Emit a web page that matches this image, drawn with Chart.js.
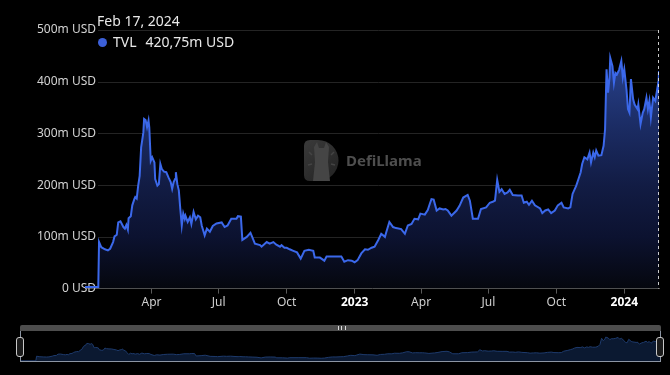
<!DOCTYPE html>
<html>
<head>
<meta charset="utf-8">
<script src="https://cdn.jsdelivr.net/npm/chart.js@4.4.1/dist/chart.umd.min.js"></script>
<style>
  html, body { margin: 0; padding: 0; background: #000; }
  body { width: 670px; height: 375px; position: relative; overflow: hidden; font-family: "Noto Sans", sans-serif; }
  #mainWrap { position: absolute; left: 0; top: 0; width: 670px; height: 312px; }
  #head { position: absolute; left: 97px; top: 10px; color: #e8e8e8; font-size: 14px; line-height: 21px; white-space: nowrap; }
  #head .dot { display: inline-block; width: 9px; height: 9px; border-radius: 50%; background: #3c60d8; margin: 0 6px 0 1px; }
  #head .val { margin-left: 9px; }
  #bar { position: absolute; left: 20px; top: 325px; width: 641px; height: 6px; background: #4d4d4d; border-radius: 2px 2px 0 0; }
  #grip { position: absolute; left: 338px; top: 326px; width: 6px; height: 4px; border-left: 1px solid #ddd; border-right: 1px solid #ddd; }
  #grip::after { content: ""; position: absolute; left: 2px; top: 0; width: 1px; height: 4px; background: #ddd; }
  #box { position: absolute; left: 20px; top: 331px; width: 641px; height: 31px; box-sizing: border-box; border: 1px solid #8c95a3; border-top: none; }
  #miniWrap { position: absolute; left: 21px; top: 331px; width: 639px; height: 30px; }
  .handle { position: absolute; top: 337px; width: 6px; height: 18px; border: 1px solid #c8c8c8; border-radius: 3px; background: #1b1b1b; }
</style>
</head>
<body>
<div id="mainWrap"><canvas id="tvlChart"></canvas></div>
<div id="head">
  <div>Feb 17, 2024</div>
  <div><span class="dot"></span>TVL<span class="val">420,75m USD</span></div>
</div>
<div id="bar"></div>
<div id="grip"></div>
<div id="box"></div>
<div id="miniWrap"><canvas id="miniChart"></canvas></div>
<div class="handle" style="left:16px"></div>
<div class="handle" style="left:656px"></div>
<script>
// TVL in millions of USD
const dates = [
  '2022-01-01','2022-01-19','2022-01-20','2022-01-23','2022-01-28','2022-02-01','2022-02-04','2022-02-08','2022-02-10','2022-02-13',
  '2022-02-15','2022-02-18','2022-02-22','2022-02-24','2022-02-26','2022-02-28','2022-03-01','2022-03-04','2022-03-06','2022-03-09',
  '2022-03-10','2022-03-12','2022-03-14','2022-03-16','2022-03-18','2022-03-21','2022-03-22','2022-03-24','2022-03-26','2022-03-28',
  '2022-03-29','2022-03-31','2022-04-02','2022-04-05','2022-04-06','2022-04-09','2022-04-11','2022-04-13','2022-04-15','2022-04-18',
  '2022-04-21','2022-04-24','2022-04-27','2022-04-29','2022-05-01','2022-05-03','2022-05-04','2022-05-06','2022-05-08','2022-05-10',
  '2022-05-12','2022-05-14','2022-05-16','2022-05-17','2022-05-20','2022-05-23','2022-05-25','2022-05-28','2022-05-31','2022-06-03',
  '2022-06-06','2022-06-08','2022-06-12','2022-06-15','2022-06-19','2022-06-23','2022-06-28','2022-07-05','2022-07-09','2022-07-13',
  '2022-07-18','2022-07-25','2022-07-27','2022-07-31','2022-08-02','2022-08-08','2022-08-13','2022-08-19','2022-08-26','2022-08-28',
  '2022-09-04','2022-09-08','2022-09-13','2022-09-17','2022-09-22','2022-09-24','2022-09-28','2022-10-01','2022-10-05','2022-10-10',
  '2022-10-15','2022-10-20','2022-10-25','2022-10-31','2022-11-06','2022-11-08','2022-11-15','2022-11-21','2022-11-24','2022-12-05',
  '2022-12-14','2022-12-18','2022-12-23','2022-12-28','2023-01-01','2023-01-05','2023-01-10','2023-01-15','2023-01-19','2023-01-24',
  '2023-01-28','2023-02-02','2023-02-06','2023-02-11','2023-02-13','2023-02-17','2023-02-22','2023-02-26','2023-03-05','2023-03-10',
  '2023-03-14','2023-03-19','2023-03-23','2023-03-28','2023-03-31','2023-04-06','2023-04-10','2023-04-13','2023-04-15','2023-04-18',
  '2023-04-22','2023-04-26','2023-05-01','2023-05-04','2023-05-07','2023-05-12','2023-05-19','2023-05-23','2023-05-28','2023-06-03',
  '2023-06-06','2023-06-10','2023-06-17','2023-06-21','2023-06-28','2023-07-03','2023-07-07','2023-07-10','2023-07-13','2023-07-16',
  '2023-07-19','2023-07-23','2023-07-27','2023-07-30','2023-08-03','2023-08-10','2023-08-15','2023-08-18','2023-08-22','2023-08-25',
  '2023-08-29','2023-09-02','2023-09-09','2023-09-12','2023-09-16','2023-09-20','2023-09-24','2023-09-29','2023-10-03','2023-10-08',
  '2023-10-11','2023-10-17','2023-10-20','2023-10-23','2023-10-28','2023-10-31','2023-11-03','2023-11-05','2023-11-08','2023-11-12',
  '2023-11-15','2023-11-17','2023-11-20','2023-11-22','2023-11-24','2023-11-27','2023-12-01','2023-12-04','2023-12-06','2023-12-08',
  '2023-12-10','2023-12-12','2023-12-13','2023-12-16','2023-12-18','2023-12-20','2023-12-22','2023-12-25','2023-12-28','2023-12-30',
  '2024-01-01','2024-01-04','2024-01-06','2024-01-08','2024-01-10','2024-01-13','2024-01-15','2024-01-19','2024-01-20','2024-01-23',
  '2024-01-26','2024-01-28','2024-01-31','2024-02-02','2024-02-04','2024-02-06','2024-02-09','2024-02-12','2024-02-15','2024-02-16',
  '2024-02-17'
];
const tvl = [
  3, 3, 90, 80, 76, 74, 77, 90, 101, 104,
  128, 130, 119, 116, 123, 114, 136, 140, 161, 174,
  177, 174, 199, 218, 273, 302, 328, 326, 312, 325,
  312, 247, 254, 244, 212, 199, 202, 241, 231, 226,
  225, 215, 206, 193, 206, 212, 225, 202, 190, 154,
  122, 145, 135, 141, 129, 138, 125, 148, 134, 141,
  138, 122, 103, 116, 110, 121, 126, 128, 119, 122,
  135, 135, 140, 139, 94, 100, 108, 87, 84, 81,
  90, 87, 90, 85, 81, 84, 79, 79, 76, 73,
  70, 58, 73, 75, 73, 60, 60, 54, 62, 62,
  62, 52, 55, 54, 51, 55, 68, 76, 75, 79,
  81, 94, 106, 100, 110, 129, 119, 117, 115, 106,
  122, 125, 135, 134, 145, 143, 152, 165, 173, 172,
  151, 155, 153, 154, 151, 141, 151, 160, 176, 181,
  170, 135, 135, 154, 157, 166, 168, 170, 210, 187,
  192, 183, 186, 191, 181, 180, 180, 166, 168, 162,
  170, 161, 155, 146, 151, 153, 146, 151, 161, 166,
  157, 155, 157, 183, 199, 212, 225, 241, 254, 250,
  263, 244, 263, 254, 267, 257, 258, 276, 308, 424,
  379, 408, 446, 430, 398, 417, 414, 423, 440, 408,
  424, 385, 347, 340, 405, 366, 356, 347, 356, 318,
  340, 347, 369, 347, 363, 331, 369, 363, 389, 379,
  420.75
];
const xTickDates = ['2022-04-01','2022-07-01','2022-10-01','2023-01-01','2023-04-01','2023-07-01','2023-10-01','2024-01-01'];
const xTickLabels = ['Apr','Jul','Oct','2023','Apr','Jul','Oct','2024'];
const yTickValues = [0, 100, 200, 300, 400, 500];
const yTickLabels = ['0 USD','100m USD','200m USD','300m USD','400m USD','500m USD'];

const FONT = '"Noto Sans", sans-serif';
const DAY0 = Date.parse('2022-01-01');
const toDay = s => (Date.parse(s) - DAY0) / 86400000;
const points = dates.map((d, i) => ({ x: toDay(d), y: tvl[i] }));
const lastDay = toDay(dates[dates.length - 1]);
const isYear = i => /^\d{4}$/.test(xTickLabels[i]);

// y labels sit over the first days of the line, and the grid starts right of them
const yAxisPlugin = {
  id: 'yAxisLook',
  beforeDatasetsDraw(chart) {
    const { ctx, chartArea, scales: { y } } = chart;
    ctx.save();
    ctx.strokeStyle = '#242424';
    ctx.lineWidth = 1;
    yTickValues.slice(1).forEach(v => {
      const py = Math.round(y.getPixelForValue(v)) + 0.5;
      ctx.beginPath();
      ctx.moveTo(chartArea.left + 13, py);
      ctx.lineTo(chartArea.right, py);
      ctx.stroke();
    });
    ctx.fillStyle = '#d2d2d2';
    ctx.font = '12px ' + FONT;
    ctx.textAlign = 'right';
    ctx.textBaseline = 'middle';
    yTickValues.forEach((v, i) => ctx.fillText(yTickLabels[i], chartArea.left + 11, y.getPixelForValue(v)));
    ctx.restore();
  }
};

const watermark = {
  id: 'watermark',
  beforeDatasetsDraw(chart) {
    const { ctx } = chart;
    const lx = 304, ty = 140, h = 41, r = h / 2;
    ctx.save();
    const g = ctx.createLinearGradient(lx, ty, lx + 34, ty + h);
    g.addColorStop(0, '#3a3a3a');
    g.addColorStop(1, '#222');
    ctx.fillStyle = g;
    ctx.beginPath();
    ctx.moveTo(lx + 6, ty);
    ctx.lineTo(lx + 14, ty);
    ctx.arc(lx + 14, ty + r, r, -Math.PI / 2, Math.PI / 2);
    ctx.lineTo(lx + 6, ty + h);
    ctx.quadraticCurveTo(lx, ty + h, lx, ty + h - 6);
    ctx.lineTo(lx, ty + 6);
    ctx.quadraticCurveTo(lx, ty, lx + 6, ty);
    ctx.fill();
    // llama head
    ctx.fillStyle = '#454545';
    ctx.beginPath();
    ctx.moveTo(314, 147); ctx.lineTo(317, 142); ctx.lineTo(319, 148);
    ctx.lineTo(324, 148); ctx.lineTo(326, 142); ctx.lineTo(329, 147);
    ctx.lineTo(328, 162); ctx.lineTo(330, 181); ctx.lineTo(313, 181);
    ctx.lineTo(315, 162); ctx.closePath();
    ctx.fill();
    ctx.strokeStyle = '#444';
    ctx.lineWidth = 1.5;
    [[309, 152, 312, 155], [334, 152, 331, 155], [308, 165, 312, 164], [335, 165, 331, 164]].forEach(([a, b, c, d]) => {
      ctx.beginPath(); ctx.moveTo(a, b); ctx.lineTo(c, d); ctx.stroke();
    });
    ctx.fillStyle = '#4e4e4e';
    ctx.font = 'bold 15px ' + FONT;
    ctx.textBaseline = 'alphabetic';
    ctx.fillText('DefiLlama', 346, 166);
    ctx.restore();
  }
};

const crosshair = {
  id: 'crosshair',
  afterDatasetsDraw(chart) {
    const { ctx, chartArea, scales: { x } } = chart;
    const px = Math.round(x.getPixelForValue(lastDay)) - 0.5;
    ctx.save();
    ctx.strokeStyle = 'rgba(235,235,235,0.85)';
    ctx.setLineDash([3, 3]);
    ctx.lineWidth = 1;
    ctx.beginPath();
    ctx.moveTo(px, chartArea.top);
    ctx.lineTo(px, chartArea.bottom);
    ctx.stroke();
    ctx.restore();
  }
};

new Chart(document.getElementById('tvlChart'), {
  type: 'line',
  data: {
    datasets: [{
      label: 'TVL',
      data: points,
      borderColor: '#3b68ea',
      borderWidth: 2,
      pointRadius: 0,
      tension: 0,
      fill: 'origin',
      backgroundColor: (c) => {
        const { ctx, chartArea } = c.chart;
        if (!chartArea) return 'transparent';
        const g = ctx.createLinearGradient(0, chartArea.top, 0, chartArea.bottom);
        g.addColorStop(0, '#2b4594');
        g.addColorStop(0.15, '#263e86');
        g.addColorStop(0.4, '#1a2a60');
        g.addColorStop(0.6, '#121c44');
        g.addColorStop(0.8, '#0c1230');
        g.addColorStop(1, '#05070e');
        return g;
      }
    }]
  },
  options: {
    responsive: true,
    maintainAspectRatio: false,
    animation: false,
    layout: { padding: { top: 30, right: 11, left: 0, bottom: 0 } },
    plugins: { legend: { display: false }, tooltip: { enabled: false } },
    scales: {
      x: {
        type: 'linear',
        min: 0,
        max: lastDay,
        afterBuildTicks: s => { s.ticks = xTickDates.map(d => ({ value: toDay(d) })); },
        grid: { drawOnChartArea: false, drawTicks: true, tickLength: 5, color: '#5a5a5a' },
        border: { display: true, color: '#5a5a5a' },
        ticks: {
          autoSkip: false,
          maxRotation: 0,
          padding: 2,
          callback: (v, i) => xTickLabels[i],
          color: c => isYear(c.index) ? '#ffffff' : '#cfcfcf',
          font: c => ({ family: FONT, size: 12, weight: isYear(c.index) ? 'bold' : 'normal' })
        }
      },
      y: {
        min: 0,
        max: 500,
        afterBuildTicks: s => { s.ticks = yTickValues.map(v => ({ value: v })); },
        afterFit: s => { s.width = 85; },
        grid: { display: false, drawTicks: false },
        border: { display: false },
        ticks: { display: false }
      }
    }
  },
  plugins: [yAxisPlugin, watermark, crosshair]
});

// overview chart inside the zoom slider
new Chart(document.getElementById('miniChart'), {
  type: 'line',
  data: {
    datasets: [{
      data: points,
      borderColor: '#1d3a6c',
      borderWidth: 1,
      pointRadius: 0,
      tension: 0,
      fill: 'origin',
      backgroundColor: '#0b1931'
    }]
  },
  options: {
    responsive: true,
    maintainAspectRatio: false,
    animation: false,
    layout: { padding: 0 },
    plugins: { legend: { display: false }, tooltip: { enabled: false } },
    scales: {
      x: { type: 'linear', min: 0, max: lastDay, display: false },
      y: { min: 0, max: 560, display: false }
    }
  }
});
</script>
</body>
</html>
